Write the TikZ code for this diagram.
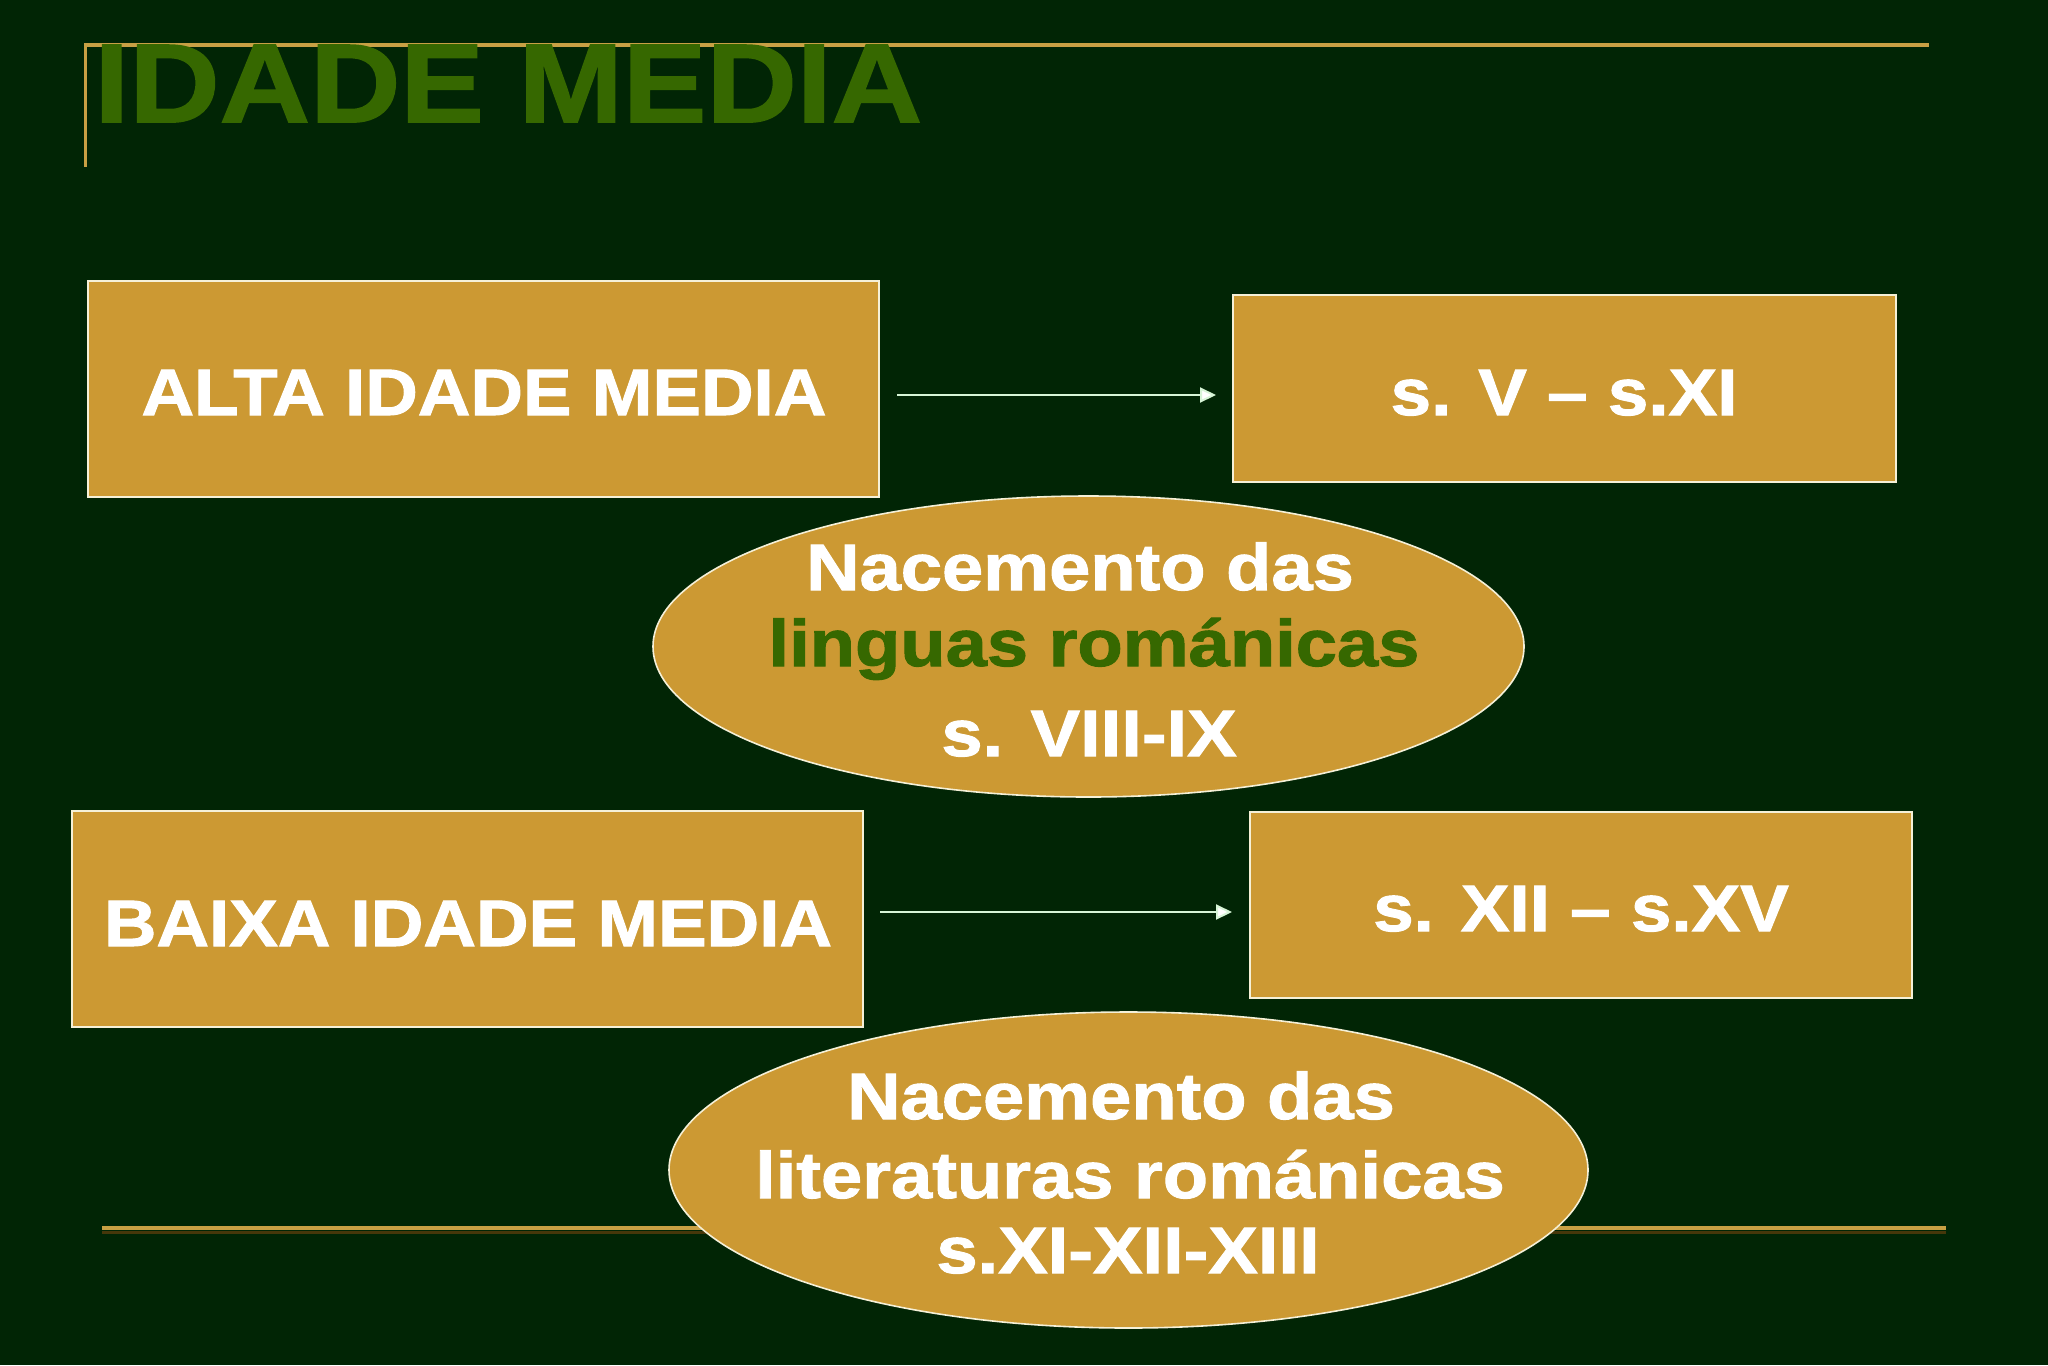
\documentclass[tikz,border=0pt]{standalone}
\usepackage{fontspec}
\setmainfont{Liberation Sans}
\newfontfamily\wfont[FakeStretch=1.11,BoldFeatures={FakeBold=1.5}]{Liberation Sans}
\newfontfamily\efont[FakeStretch=1.13,BoldFeatures={FakeBold=1.5}]{Liberation Sans}
\newfontfamily\tfont[FakeStretch=1.12,BoldFeatures={FakeBold=1.5}]{Liberation Sans}
\usetikzlibrary{shapes.geometric,arrows.meta}
\definecolor{bg}{RGB}{1,37,5}
\definecolor{gold}{RGB}{204,153,51}
\definecolor{tgreen}{RGB}{54,104,0}
\definecolor{lgold}{RGB}{200,160,68}
\definecolor{lshadow}{RGB}{70,55,10}
\definecolor{edge}{RGB}{245,240,215}
\definecolor{mint}{RGB}{215,245,215}
\begin{document}
\begin{tikzpicture}[x=0.5pt,y=-0.5pt,
  box/.style={draw=edge, line width=1pt, fill=gold, inner sep=0pt},
  oval/.style={ellipse, draw=edge, line width=0.8pt, fill=gold, inner sep=0pt},
  lbl/.style={anchor=base, inner sep=0pt, text=white, font=\wfont\bfseries\fontsize{32.8pt}{36pt}\selectfont},
  elbl/.style={lbl, font=\efont\bfseries\fontsize{32.8pt}{36pt}\selectfont},
  glbl/.style={elbl, text=tgreen},
  arr/.style={draw=mint, line width=1pt, -{Triangle[length=8pt,width=7.5pt,fill=white]}},
  gline/.style={draw=lgold, line width=2pt}]
\useasboundingbox (0,0) rectangle (2048,1365);
\fill[bg] (0,0) rectangle (2048,1365);
% frame lines
\draw[lshadow, line width=1.5pt] (102,1232) -- (1946,1232);
\draw[gline] (102,1228) -- (1946,1228);
\draw[gline] (84,45) -- (1929,45);
\draw[draw=lgold, line width=1.5pt] (85,44) -- (85,167);
% title
\node[anchor=base west, inner sep=0pt, text=tgreen, font=\tfont\bfseries\fontsize{55.9pt}{60pt}\selectfont] (title) at (94,122) {IDADE MEDIA};
% boxes
\node[box, minimum width=395.75pt, minimum height=108pt] (b1) at (483.25,389) {};
\node[box, minimum width=331.5pt, minimum height=93.5pt] (b2) at (1564.5,388.5) {};
\node[box, minimum width=395.5pt, minimum height=108pt] (b3) at (467.5,919) {};
\node[box, minimum width=331pt, minimum height=93pt] (b4) at (1581,905) {};
% ellipses
\node[oval, minimum width=435.5pt, minimum height=150.5pt] (e1) at (1088.5,646.5) {};
\node[oval, minimum width=459.5pt, minimum height=158pt] (e2) at (1128.5,1170) {};
% box labels
\node[lbl] (t1) at (484,415) {ALTA IDADE MEDIA};
\node[lbl] (t2) at (1564,415) {s. V – s.XI};
\node[lbl] (t3) at (468,946) {BAIXA IDADE MEDIA};
\node[lbl] (t4) at (1581,931) {s. XII – s.XV};
% ellipse labels
\node[elbl] (e1a) at (1080,590) {Nacemento das};
\node[glbl] (e1b) at (1094,666) {linguas románicas};
\node[elbl] (e1c) at (1089,756) {s. VIII-IX};
\node[elbl] (e2a) at (1121,1119) {Nacemento das};
\node[elbl] (e2b) at (1130,1198) {literaturas románicas};
\node[elbl] (e2c) at (1128,1273) {s.XI-XII-XIII};
% arrows
\draw[arr, shorten <=8.5pt, shorten >=8pt] (b1.east |- 0,395) -- (b2.west |- 0,395);
\draw[arr, shorten <=8pt, shorten >=8.5pt] (b3.east |- 0,912) -- (b4.west |- 0,912);
\end{tikzpicture}
\end{document}
